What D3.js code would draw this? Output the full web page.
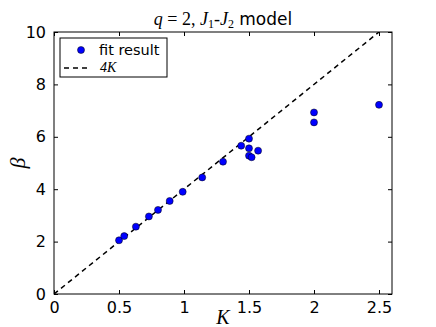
<!DOCTYPE html>
<html>
<head>
	<meta charset="utf-8">
	<script src="https://d3js.org/d3.v7.min.js"></script>
	<style type="text/css">
		body { margin: 0; background: #fff; }
		svg text { font-family: 'DejaVu Sans', sans-serif; fill: #000; }
		.math { font-family: 'Liberation Serif', 'DejaVu Serif', serif; font-style: italic; }
	</style>
</head>
<body>
	<script type="text/javascript">
		// fit results
		var K = [0.50, 0.54, 0.63, 0.73, 0.80, 0.89, 0.99, 1.14, 1.30, 1.44, 1.50, 1.50, 1.57, 1.50, 1.52, 2.00, 2.00, 2.50];
		var beta = [2.05, 2.21, 2.57, 2.96, 3.21, 3.55, 3.90, 4.45, 5.05, 5.66, 5.93, 5.56, 5.47, 5.28, 5.22, 6.93, 6.55, 7.22];
		// the 4K reference line
		var lineK = [0, 2.6];
		var xTicks = [0, 0.5, 1, 1.5, 2, 2.5];
		var yTicks = [0, 2, 4, 6, 8, 10];

		var w = 436, h = 327;
		var pl = 54, pr = 392, pt = 32, pb = 294;

		var x = d3.scaleLinear().domain([0, 2.6]).range([pl, pr]);
		var y = d3.scaleLinear().domain([0, 10]).range([pb, pt]);

		var svg = d3.select('body')
			.append('svg')
			.attr('width', w)
			.attr('height', h);

		svg.append('defs').append('clipPath')
			.attr('id', 'clip')
			.append('rect')
			.attr('x', pl).attr('y', pt)
			.attr('width', pr - pl).attr('height', pb - pt);

		// dashed 4K line
		var line = d3.line()
			.x(function (d) { return x(d); })
			.y(function (d) { return y(4 * d); });
		svg.append('path')
			.datum(lineK)
			.attr('d', line)
			.attr('clip-path', 'url(#clip)')
			.attr('fill', 'none')
			.attr('stroke', '#000')
			.attr('stroke-width', 1.5)
			.attr('stroke-dasharray', '5,4');

		// points
		svg.append('g')
			.selectAll('circle')
			.data(K)
			.enter()
			.append('circle')
			.attr('cx', function (d) { return x(d); })
			.attr('cy', function (d, i) { return y(beta[i]); })
			.attr('r', 3.5)
			.attr('fill', '#0000ff')
			.attr('stroke', '#000')
			.attr('stroke-width', 0.5);

		// axes, ticks inward on all four sides
		function styleAxis(g) {
			g.select('.domain').remove();
			g.selectAll('line').attr('stroke', '#000');
			g.selectAll('text').style('font-size', '16px').style('font-family', "'DejaVu Sans', sans-serif");
		}
		svg.append('g')
			.attr('transform', 'translate(0,' + pb + ')')
			.call(d3.axisBottom(x).tickValues(xTicks).tickSizeInner(-4).tickSizeOuter(0).tickPadding(8).tickFormat(d3.format('')))
			.call(styleAxis);
		svg.append('g')
			.attr('transform', 'translate(0,' + pt + ')')
			.call(d3.axisTop(x).tickValues(xTicks).tickSizeInner(-4).tickSizeOuter(0).tickFormat(''))
			.call(styleAxis);
		svg.append('g')
			.attr('transform', 'translate(' + pl + ',0)')
			.call(d3.axisLeft(y).tickValues(yTicks).tickSizeInner(-4).tickSizeOuter(0).tickPadding(8))
			.call(styleAxis);
		svg.append('g')
			.attr('transform', 'translate(' + pr + ',0)')
			.call(d3.axisRight(y).tickValues(yTicks).tickSizeInner(-4).tickSizeOuter(0).tickFormat(''))
			.call(styleAxis);

		svg.append('rect')
			.attr('x', pl).attr('y', pt)
			.attr('width', pr - pl).attr('height', pb - pt)
			.attr('fill', 'none')
			.attr('stroke', '#000')
			.attr('stroke-width', 1);

		// title
		var title = svg.append('text')
			.attr('x', (pl + pr) / 2)
			.attr('y', 25)
			.attr('text-anchor', 'middle')
			.style('font-size', '17px');
		title.append('tspan').attr('class', 'math').style('font-size', '18px').text('q');
		title.append('tspan').attr('class', 'math').style('font-style', 'normal').style('font-size', '18px').text(' = 2,  ');
		title.append('tspan').attr('class', 'math').style('font-size', '18px').text('J');
		title.append('tspan').attr('class', 'math').style('font-style', 'normal').style('font-size', '12px').attr('dy', 3).text('1');
		title.append('tspan').attr('class', 'math').style('font-style', 'normal').style('font-size', '18px').attr('dy', -3).text('-');
		title.append('tspan').attr('class', 'math').style('font-size', '18px').text('J');
		title.append('tspan').attr('class', 'math').style('font-style', 'normal').style('font-size', '12px').attr('dy', 3).text('2');
		title.append('tspan').attr('dy', -3).text('  model');

		// axis labels
		svg.append('text')
			.attr('class', 'math')
			.attr('x', 223)
			.attr('y', 324)
			.attr('text-anchor', 'middle')
			.style('font-size', '20px')
			.text('K');
		svg.append('text')
			.attr('class', 'math')
			.attr('transform', 'translate(25,' + ((pt + pb) / 2) + ') rotate(-90)')
			.attr('text-anchor', 'middle')
			.style('font-size', '22px')
			.text('β');

		// legend
		var lg = svg.append('g');
		lg.append('rect')
			.attr('x', 60).attr('y', 38)
			.attr('width', 107).attr('height', 39)
			.attr('fill', '#fff')
			.attr('stroke', '#000')
			.attr('stroke-width', 1);
		lg.append('circle')
			.attr('cx', 81).attr('cy', 50).attr('r', 3.5)
			.attr('fill', '#0000ff').attr('stroke', '#000').attr('stroke-width', 0.5);
		lg.append('text')
			.attr('x', 99).attr('y', 55)
			.style('font-size', '14.5px')
			.text('fit result');
		lg.append('line')
			.attr('x1', 64).attr('x2', 90).attr('y1', 68).attr('y2', 68)
			.attr('stroke', '#000').attr('stroke-width', 1.5)
			.attr('stroke-dasharray', '5,4');
		lg.append('text')
			.attr('class', 'math')
			.attr('x', 100).attr('y', 72)
			.style('font-size', '14px')
			.text('4K');
	</script>
</body>
</html>
